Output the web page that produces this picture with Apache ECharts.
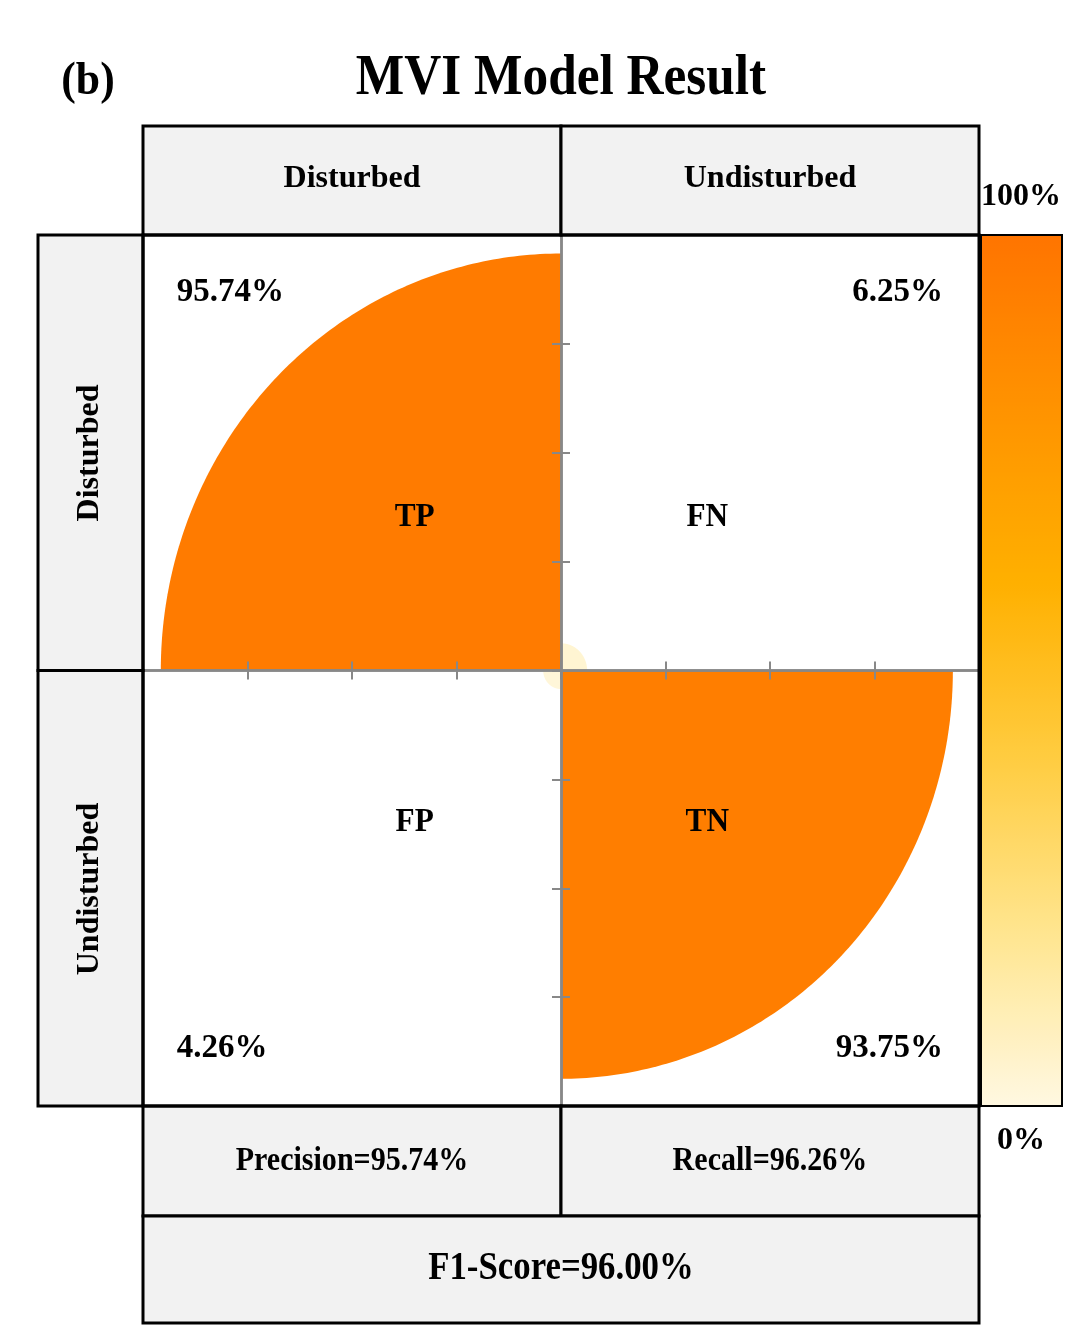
<!DOCTYPE html>
<html><head><meta charset="utf-8">
<script src="https://cdn.jsdelivr.net/npm/echarts@6/dist/echarts.min.js"></script>
<style>html,body{margin:0;padding:0;background:#fff}#c{width:1080px;height:1342px}</style>
</head><body><div id="c"></div>
<script>
const panelTag = '(b)';
const titleText = 'MVI Model Result';
const colLabels = ['Disturbed', 'Undisturbed'];
const rowLabels = ['Disturbed', 'Undisturbed'];
const cellNames = ['TP', 'FN', 'FP', 'TN'];
const cellValues = [95.74, 6.25, 4.26, 93.75];
const cellQuadX = [-1, 1, -1, 1];
const cellQuadY = [1, 1, -1, -1];
const metricPrecision = 'Precision=95.74%';
const metricRecall = 'Recall=96.26%';
const metricF1 = 'F1-Score=96.00%';
const scaleLabels = ['100%', '0%'];
const colorStops = ['#fff8e1', '#ffe58f', '#ffcc40', '#ffb000', '#ff9300', '#ff7400'];

const FONT = '"Liberation Serif", "Times New Roman", serif';
const G = {l: 143, t: 235, w: 836, h: 871};
const cx = G.l + G.w / 2, cy = G.t + G.h / 2;

function txt(x, y, text, size, opts) {
  opts = opts || {};
  return {
    type: 'text', x: x, y: y, z: 100, rotation: opts.rot || 0,
    scaleX: opts.sx || 1, scaleY: 1,
    style: {
      text: text, fontSize: size, fontFamily: FONT, fontWeight: 'bold', fill: '#000',
      textAlign: opts.align || 'center', textVerticalAlign: 'middle',
      align: opts.align || 'center', verticalAlign: 'middle'
    }
  };
}
function box(x, y, w, h, fill, lw) {
  return {type: 'rect', z: 50, shape: {x: x, y: y, width: w, height: h},
    style: {fill: fill, stroke: '#000', lineWidth: lw || 3}};
}

const data = cellValues.map((v, i) => [cellQuadX[i], cellQuadY[i], v, i]);

const graphics = [
  box(G.l, 126, G.w / 2, 109, '#f2f2f2'),
  box(cx, 126, G.w / 2, 109, '#f2f2f2'),
  box(38, G.t, 105, G.h / 2, '#f2f2f2'),
  box(38, cy, 105, G.h / 2, '#f2f2f2'),
  box(G.l, 1106, G.w / 2, 110, '#f2f2f2'),
  box(cx, 1106, G.w / 2, 110, '#f2f2f2'),
  box(G.l, 1216, G.w, 107, '#f2f2f2'),
  {type: 'rect', z: 60, shape: {x: G.l, y: G.t, width: G.w, height: G.h},
    style: {fill: 'none', stroke: '#000', lineWidth: 3}},
  {type: 'rect', z: 60, shape: {x: 981, y: G.t, width: 81, height: G.h},
    style: {fill: 'none', stroke: '#000', lineWidth: 2}},
  txt(88, 82, panelTag, 46, {sx: 0.95}),
  txt(561, 79, titleText, 57, {sx: 0.9}),
  txt(352, 179, colLabels[0], 32),
  txt(770, 179, colLabels[1], 32),
  txt(90, 453, rowLabels[0], 32, {rot: Math.PI / 2}),
  txt(90, 889, rowLabels[1], 32, {rot: Math.PI / 2}),
  txt(352, 1161, metricPrecision, 33, {sx: 0.91}),
  txt(770, 1161, metricRecall, 33, {sx: 0.91}),
  txt(561, 1269, metricF1, 40, {sx: 0.87}),
  txt(1021, 197, scaleLabels[0], 32),
  txt(1021, 1141, scaleLabels[1], 32)
];

const chart = echarts.init(document.getElementById('c'), null, {renderer: 'canvas'});
const tickStyle = {color: '#888', width: 2};
function mkAxis(pos, inside) {
  return {
    type: 'value', min: -1, max: 1, interval: 0.25, z: 5, position: pos, offset: 0,
    axisLabel: {show: false}, splitLine: {show: false},
    axisLine: {show: true, onZero: true, onZeroAxisIndex: 0, lineStyle: {color: '#888', width: 2.5}},
    axisTick: {show: true, inside: inside, length: 9, lineStyle: tickStyle}
  };
}
chart.setOption({
  animation: false,
  backgroundColor: '#fff',
  grid: {left: G.l, top: G.t, width: G.w, height: G.h, show: true, backgroundColor: '#fff', borderWidth: 0},
  xAxis: [mkAxis('bottom', true), mkAxis('bottom', false)],
  yAxis: [mkAxis('left', true), mkAxis('left', false)],
  visualMap: {
    type: 'continuous', min: 0, max: 100, dimension: 2, seriesIndex: 0,
    orient: 'vertical', left: 981, top: G.t, itemWidth: 81, itemHeight: G.h,
    padding: 0, calculable: false, text: null, showLabel: false,
    inRange: {color: colorStops}
  },
  graphic: graphics,
  series: [{
    type: 'custom', coordinateSystem: 'cartesian2d', xAxisIndex: 0, yAxisIndex: 0, z: 1,
    data: data,
    renderItem: function (params, api) {
      const qx = api.value(0), qy = api.value(1), v = api.value(2), idx = api.value(3);
      const r = v / 100;
      const pts = [api.coord([0, 0])];
      const N = 120;
      for (let k = 0; k <= N; k++) {
        const a = (Math.PI / 2) * k / N;
        pts.push(api.coord([qx * r * Math.cos(a), qy * r * Math.sin(a)]));
      }
      const color = api.visual('color');
      const namePos = api.coord([qx * 0.35, qy > 0 ? 0.352 : -0.348]);
      const pctPos = api.coord([qx < 0 ? -0.919 : 0.914, qy > 0 ? 0.868 : -0.868]);
      const lowOpacity = v < 50 ? 0.8 : 1;
      return {
        type: 'group',
        children: [
          {type: 'polygon', shape: {points: pts}, style: {fill: color, opacity: lowOpacity}},
          {type: 'text', x: namePos[0], y: namePos[1], scaleX: 0.92, z2: 10,
            style: {text: cellNames[idx], fontSize: 34, fontFamily: FONT, fontWeight: 'bold', fill: '#000',
              textAlign: 'center', textVerticalAlign: 'middle', align: 'center', verticalAlign: 'middle'}},
          {type: 'text', x: pctPos[0], y: pctPos[1], z2: 10,
            style: {text: cellValues[idx].toFixed(2) + '%', fontSize: 33, fontFamily: FONT, fontWeight: 'bold', fill: '#000',
              textAlign: qx < 0 ? 'left' : 'right', textVerticalAlign: 'middle',
              align: qx < 0 ? 'left' : 'right', verticalAlign: 'middle'}}
        ]
      };
    }
  }]
});
</script></body></html>
